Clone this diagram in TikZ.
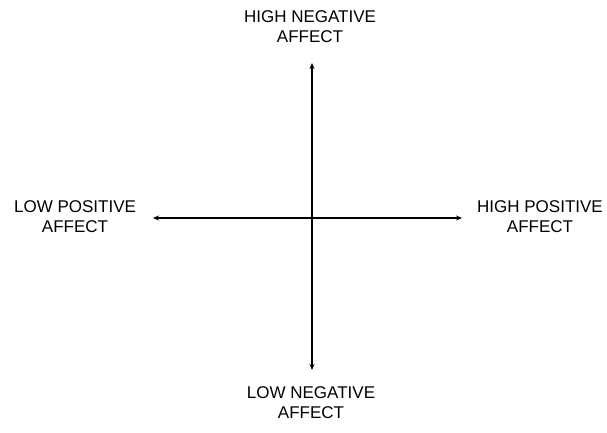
\documentclass[tikz,border=0pt]{standalone}
\usepackage{fontspec}
\setmainfont{Liberation Sans}
\usetikzlibrary{arrows.meta}

\begin{document}
\begin{tikzpicture}[
  x=1pt, y=-1pt, font=\fontsize{17}{20}\selectfont,
  lbl/.style  ={align=center, inner sep=0pt},
  axis/.style ={line width=1.3pt, {Stealth[length=6pt,width=5pt]}-{Stealth[length=6pt,width=5pt]}}]
  \useasboundingbox (0,0) rectangle (607,432);
  \coordinate (top) at (312,63);  \coordinate (bot) at (312,370);
  \coordinate (lft) at (153,218); \coordinate (rgt) at (462,218);
  \node[lbl] (hineg) at (310,27)  {HIGH NEGATIVE\\AFFECT};
  \node[lbl] (loneg) at (311,403) {LOW NEGATIVE\\AFFECT};
  \node[lbl] (lopos) at (75,217)  {LOW POSITIVE\\AFFECT};
  \node[lbl] (hipos) at (540,217) {HIGH POSITIVE\\AFFECT};
  \draw[axis] (top) -- (bot);
  \draw[axis] (lft) -- (rgt);
\end{tikzpicture}
\end{document}
